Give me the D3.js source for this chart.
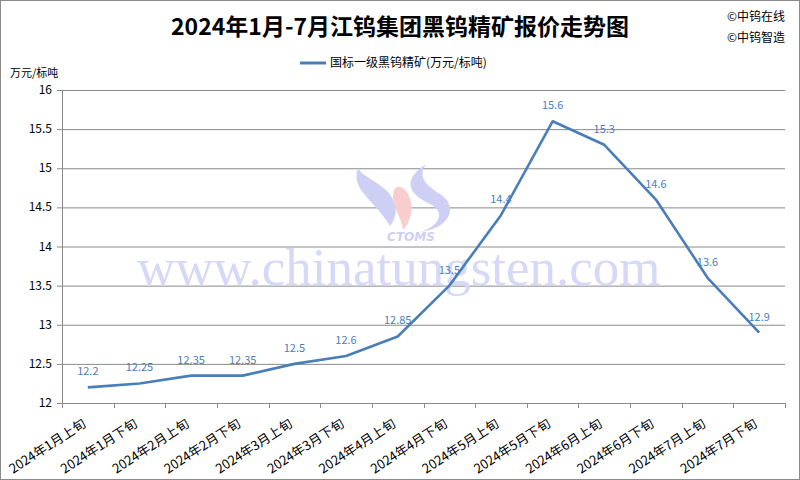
<!DOCTYPE html>
<html><head><meta charset="utf-8">
<script src="https://cdn.jsdelivr.net/npm/d3@7/dist/d3.min.js"></script>
<style>body{margin:0;background:#fff}svg{display:block}</style>
</head><body>
<script>
const categories = ["2024年1月上旬","2024年1月下旬","2024年2月上旬","2024年2月下旬","2024年3月上旬","2024年3月下旬","2024年4月上旬","2024年4月下旬","2024年5月上旬","2024年5月下旬","2024年6月上旬","2024年6月下旬","2024年7月上旬","2024年7月下旬"];
const prices = [12.2,12.25,12.35,12.35,12.5,12.6,12.85,13.5,14.4,15.6,15.3,14.6,13.6,12.9];
const priceLabels = ["12.2","12.25","12.35","12.35","12.5","12.6","12.85","13.5","14.4","15.6","15.3","14.6","13.6","12.9"];
const yTicks = [12,12.5,13,13.5,14,14.5,15,15.5,16];
const seriesName = "国标一级黑钨精矿(万元/标吨)";
const title = "2024年1月-7月江钨集团黑钨精矿报价走势图";

const W = 800, H = 480;
const m = {l: 62, r: 15, t: 90, b: 77};
const font = "'Noto Sans CJK SC','Noto Sans',sans-serif";
const svg = d3.select("body").append("svg").attr("width", W).attr("height", H)
  .style("font-family", font);

svg.append("rect").attr("x",0.5).attr("y",0.5).attr("width",W-1).attr("height",H-1)
  .attr("fill","#fff").attr("stroke","#8c8c8c");

const x = d3.scaleBand().domain(categories).range([m.l, W - m.r]);
const y = d3.scaleLinear().domain([12,16]).range([H - m.b, m.t]);

// gridlines
svg.append("g").selectAll("line").data(yTicks.filter(d=>d>12)).join("line")
  .attr("x1", m.l).attr("x2", W - m.r)
  .attr("y1", d=>y(d)+0.5).attr("y2", d=>y(d)+0.5)
  .attr("stroke","#8a8a8a").attr("stroke-width",1);

// watermark
const wm = svg.append("g");
wm.append("path").attr("d","M358,168 C350,190 375,200 390,226 C400,214 396,200 386,190 C375,180 362,176 358,168 Z").attr("fill","#cdd0f4");
wm.append("path").attr("d","M426,164 C402,180 408,194 430,204 C446,212 440,226 420,232 C452,228 458,205 440,194 C424,184 418,176 426,164 Z").attr("fill","#cdd0f4");
wm.append("path").attr("d","M395,188 C388,202 402,216 403,230 C414,218 414,200 405,190 C401,186 398,186 395,188 Z").attr("fill","#f8cdcd");
wm.append("text").attr("x",411).attr("y",241).attr("text-anchor","middle")
  .attr("font-family","'DejaVu Sans',sans-serif").attr("font-weight","bold").attr("font-style","italic")
  .attr("font-size",12).attr("fill","#cdd0f4").text("CTOMS");
wm.append("text").attr("x",137).attr("y",285)
  .attr("font-family","'Liberation Serif',serif").attr("font-size",53)
  .attr("fill","#d6d8f7").text("www.chinatungsten.com");

// y axis
svg.append("line").attr("x1",m.l+0.5).attr("x2",m.l+0.5).attr("y1",m.t).attr("y2",H-m.b)
  .attr("stroke","#8a8a8a");
const yg = svg.append("g");
yg.selectAll("line").data(yTicks).join("line")
  .attr("x1", m.l-5).attr("x2", m.l).attr("y1", d=>y(d)+0.5).attr("y2", d=>y(d)+0.5)
  .attr("stroke","#8a8a8a");
yg.selectAll("text").data(yTicks).join("text")
  .attr("x", m.l-10).attr("y", d=>y(d)+4).attr("text-anchor","end")
  .attr("font-size",12).attr("fill","#000").text(d=>d);

// x axis
svg.append("line").attr("x1",m.l).attr("x2",W-m.r).attr("y1",H-m.b+0.5).attr("y2",H-m.b+0.5)
  .attr("stroke","#8a8a8a");
const bounds = categories.map(c=>x(c)).concat([W-m.r]);
svg.append("g").selectAll("line").data(bounds).join("line")
  .attr("x1",d=>Math.round(d)+0.5).attr("x2",d=>Math.round(d)+0.5)
  .attr("y1",H-m.b).attr("y2",H-m.b+5).attr("stroke","#8a8a8a");
svg.append("g").selectAll("text").data(categories).join("text")
  .attr("transform", d=>`translate(${x(d)+x.bandwidth()/2-1},${H-m.b+23}) rotate(-33)`)
  .attr("text-anchor","end").attr("font-size",13).attr("fill","#000").text(d=>d);

// line
const cx = (d,i)=>x(categories[i])+x.bandwidth()/2;
svg.append("path").datum(prices)
  .attr("d", d3.line().x(cx).y(d=>y(d)))
  .attr("fill","none").attr("stroke","#4a7ebb").attr("stroke-width",2.6)
  .attr("stroke-linejoin","round");

svg.append("g").selectAll("text").data(prices).join("text")
  .attr("x", cx).attr("y", d=>y(d)-12).attr("text-anchor","middle")
  .attr("font-size",11).attr("fill","#4a7ebb").text((d,i)=>priceLabels[i]);

// title
svg.append("text").attr("x",400).attr("y",35).attr("text-anchor","middle")
  .attr("font-size",23).attr("font-weight","bold").attr("fill","#000").text(title);
svg.append("text").attr("x",727).attr("y",21).attr("font-size",12).text("©中钨在线");
svg.append("text").attr("x",727).attr("y",42).attr("font-size",12).text("©中钨智造");

// legend
svg.append("line").attr("x1",300).attr("x2",326).attr("y1",63).attr("y2",63)
  .attr("stroke","#4a7ebb").attr("stroke-width",3);
svg.append("text").attr("x",330).attr("y",67).attr("font-size",12).text(seriesName);

// unit
svg.append("text").attr("x",10).attr("y",77).attr("font-size",11).text("万元/标吨");
</script>
</body></html>
